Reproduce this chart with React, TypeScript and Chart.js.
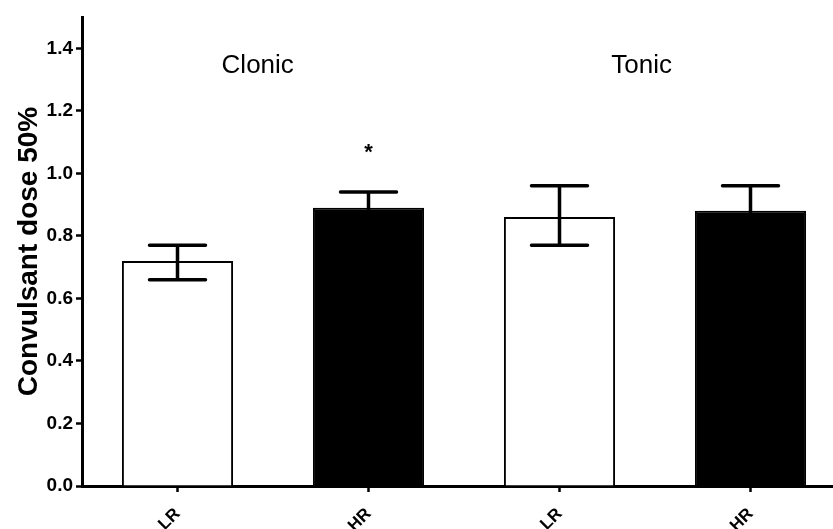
import React, { useEffect, useRef } from "react";
import { Chart, registerables } from "chart.js";

Chart.register(...registerables);

const categories = ["LR", "HR", "LR", "HR"];
const means = [0.72, 0.89, 0.86, 0.88];
const errLow = [0.66, 0.84, 0.77, 0.8];
const errHigh = [0.77, 0.94, 0.96, 0.96];
const groupLabels = ["Clonic", "Tonic"];
const groupLabelPos = [0.42, 2.43];
const groupLabelValue = 1.345;
const starIndex = 1;
const starValue = 1.065;
const yTicks = [0, 0.2, 0.4, 0.6, 0.8, 1.0, 1.2, 1.4];

const FONT = "'Liberation Sans', Arial, sans-serif";

const overlayPlugin = {
  id: "overlay",
  afterDatasetsDraw(chart: any) {
    const ctx = chart.ctx;
    const x = chart.scales.x;
    const y = chart.scales.y;
    ctx.save();
    ctx.strokeStyle = "#000";
    ctx.lineWidth = 3.5;
    ctx.lineCap = "round";
    const cap = 28;
    for (let i = 0; i < means.length; i++) {
      const cx = x.getPixelForValue(i);
      const yl = y.getPixelForValue(errLow[i]);
      const yh = y.getPixelForValue(errHigh[i]);
      ctx.beginPath();
      ctx.moveTo(cx, yl);
      ctx.lineTo(cx, yh);
      ctx.moveTo(cx - cap, yh);
      ctx.lineTo(cx + cap, yh);
      ctx.moveTo(cx - cap, yl);
      ctx.lineTo(cx + cap, yl);
      ctx.stroke();
    }
    ctx.fillStyle = "#000";
    ctx.textAlign = "center";
    ctx.textBaseline = "middle";
    ctx.font = `26px ${FONT}`;
    const step = x.getPixelForValue(1) - x.getPixelForValue(0);
    for (let g = 0; g < groupLabels.length; g++) {
      const cx = x.getPixelForValue(0) + groupLabelPos[g] * step;
      ctx.fillText(groupLabels[g], cx, y.getPixelForValue(groupLabelValue));
    }
    ctx.font = `bold 22px ${FONT}`;
    ctx.fillText("*", x.getPixelForValue(starIndex), y.getPixelForValue(starValue));
    ctx.restore();
  },
};

export default function App() {
  const ref = useRef<HTMLCanvasElement>(null);
  useEffect(() => {
    if (!ref.current) return;
    const chart = new Chart(ref.current, {
      type: "bar",
      data: {
        labels: categories,
        datasets: [
          {
            data: means,
            backgroundColor: ["#ffffff", "#000000", "#ffffff", "#000000"],
            borderColor: "#000",
            borderWidth: 2,
            borderSkipped: "bottom",
            barPercentage: 0.582,
            categoryPercentage: 1,
          },
        ],
      },
      options: {
        responsive: false,
        animation: false,
        layout: { padding: { top: 17, right: 0, left: 0, bottom: 0 } },
        plugins: { legend: { display: false }, tooltip: { enabled: false } },
        scales: {
          x: {
            offset: true,
            grid: {
              offset: false,
              drawOnChartArea: false,
              drawTicks: true,
              tickLength: 6,
              tickWidth: 2.5,
              tickColor: "#000",
            },
            border: { display: true, color: "#000", width: 3 },
            ticks: {
              color: "#000",
              font: { family: FONT, size: 17, weight: "bold" },
              minRotation: 45,
              maxRotation: 45,
              padding: 12,
            },
            afterFit(scale: any) {
              scale.height = 43;
            },
          },
          y: {
            min: 0,
            max: 1.5,
            grid: {
              drawOnChartArea: false,
              drawTicks: true,
              tickLength: 6,
              tickWidth: 2.5,
              tickColor: "#000",
            },
            border: { display: true, color: "#000", width: 3 },
            ticks: {
              color: "#000",
              font: { family: FONT, size: 19, weight: "bold" },
              padding: 3,
              callback: (v: any) => Number(v).toFixed(1),
            },
            afterBuildTicks(scale: any) {
              scale.ticks = yTicks.map((v) => ({ value: v }));
            },
            afterFit(scale: any) {
              scale.width = 82;
            },
            title: {
              display: true,
              text: "Convulsant dose 50%",
              color: "#000",
              font: { family: FONT, size: 28, weight: "bold" },
              padding: { top: 12, bottom: 0 },
            },
          },
        },
      },
      plugins: [overlayPlugin],
    });
    return () => chart.destroy();
  }, []);
  return (
    <div
      style={{
        position: "absolute",
        left: 0,
        top: 0,
        width: 833,
        height: 529,
        overflow: "hidden",
      }}
    >
      <canvas
        ref={ref}
        width={846}
        height={529}
        style={{ display: "block", width: 846, height: 529 }}
      />
    </div>
  );
}
